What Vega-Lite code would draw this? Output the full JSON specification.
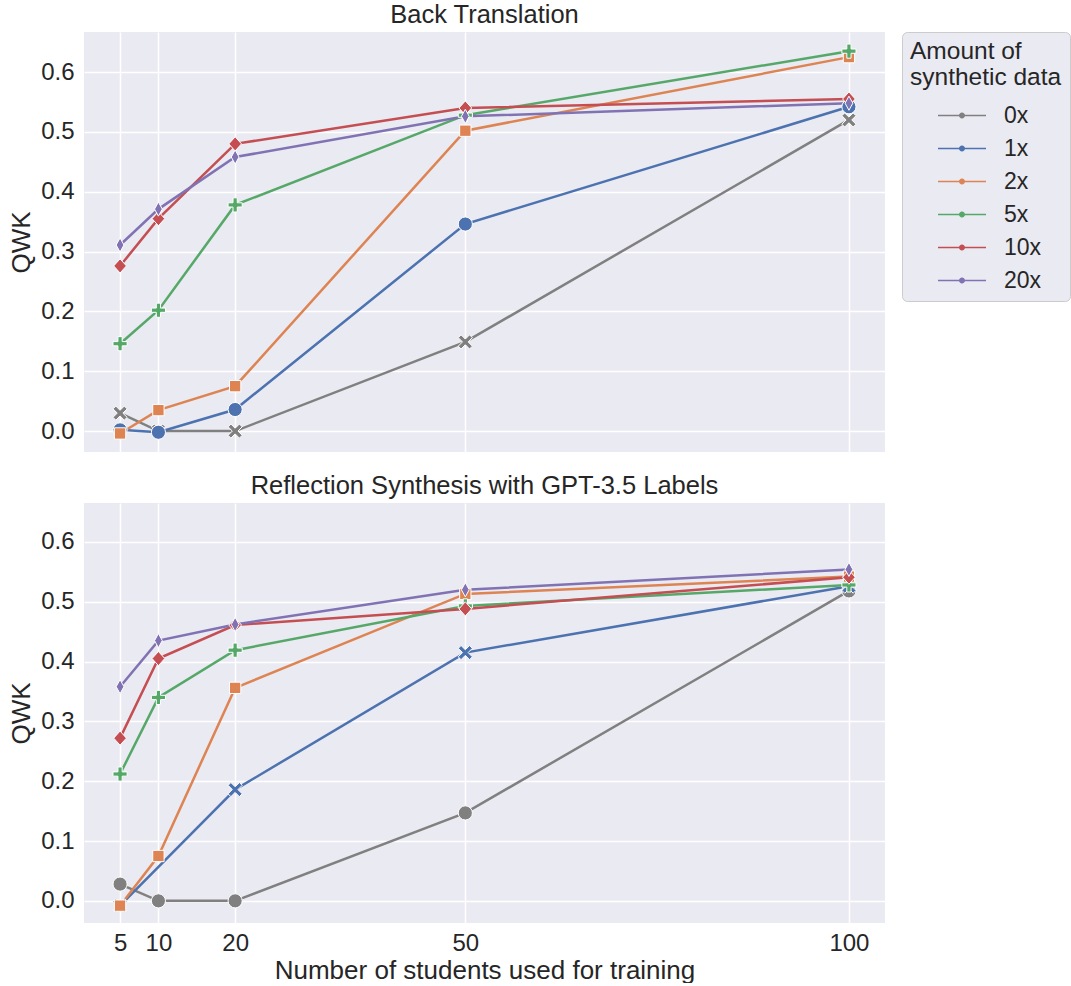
{
  "$schema": "https://vega.github.io/schema/vega-lite/v6.json",
  "background": "white",
  "padding": {"left": 8, "top": 2, "right": 0, "bottom": 0},
  "config": {
    "font": "Liberation Sans",
    "view": {"fill": "#eaeaf2", "stroke": null},
    "axis": {"domain": false, "ticks": false, "gridColor": "white", "gridWidth": 1.5, "labelFontSize": 24, "labelColor": "#262626", "titleFontSize": 26, "titleColor": "#262626", "titleFontWeight": "normal", "labelPadding": 10, "titlePadding": 6},
    "title": {"fontSize": 25.5, "fontWeight": "normal", "color": "#262626", "offset": 4},
    "legend": {"titleFontSize": 24.5, "titleFontWeight": "normal", "titleColor": "#262626", "titleLineHeight": 26, "labelFontSize": 23, "labelColor": "#262626", "fillColor": "#eaeaf2", "strokeColor": "#cccccc", "cornerRadius": 5, "padding": 8, "offset": 17, "rowPadding": 9, "labelOffset": 30, "symbolOffset": 40, "titlePadding": 13}
  },
  "datasets": {
    "d": [
      {"panel": "bt", "amount": "0x", "students": 5, "qwk": 0.03},
      {"panel": "bt", "amount": "0x", "students": 10, "qwk": 0.0},
      {"panel": "bt", "amount": "0x", "students": 20, "qwk": 0.0},
      {"panel": "bt", "amount": "0x", "students": 50, "qwk": 0.149},
      {"panel": "bt", "amount": "0x", "students": 100, "qwk": 0.52},
      {"panel": "bt", "amount": "1x", "students": 5, "qwk": 0.002},
      {"panel": "bt", "amount": "1x", "students": 10, "qwk": -0.002},
      {"panel": "bt", "amount": "1x", "students": 20, "qwk": 0.036},
      {"panel": "bt", "amount": "1x", "students": 50, "qwk": 0.346},
      {"panel": "bt", "amount": "1x", "students": 100, "qwk": 0.542},
      {"panel": "bt", "amount": "2x", "students": 5, "qwk": -0.004},
      {"panel": "bt", "amount": "2x", "students": 10, "qwk": 0.035},
      {"panel": "bt", "amount": "2x", "students": 20, "qwk": 0.075},
      {"panel": "bt", "amount": "2x", "students": 50, "qwk": 0.502},
      {"panel": "bt", "amount": "2x", "students": 100, "qwk": 0.625},
      {"panel": "bt", "amount": "5x", "students": 5, "qwk": 0.146},
      {"panel": "bt", "amount": "5x", "students": 10, "qwk": 0.202},
      {"panel": "bt", "amount": "5x", "students": 20, "qwk": 0.378},
      {"panel": "bt", "amount": "5x", "students": 50, "qwk": 0.528},
      {"panel": "bt", "amount": "5x", "students": 100, "qwk": 0.635},
      {"panel": "bt", "amount": "10x", "students": 5, "qwk": 0.276},
      {"panel": "bt", "amount": "10x", "students": 10, "qwk": 0.355},
      {"panel": "bt", "amount": "10x", "students": 20, "qwk": 0.48},
      {"panel": "bt", "amount": "10x", "students": 50, "qwk": 0.54},
      {"panel": "bt", "amount": "10x", "students": 100, "qwk": 0.555},
      {"panel": "bt", "amount": "20x", "students": 5, "qwk": 0.311},
      {"panel": "bt", "amount": "20x", "students": 10, "qwk": 0.371},
      {"panel": "bt", "amount": "20x", "students": 20, "qwk": 0.458},
      {"panel": "bt", "amount": "20x", "students": 50, "qwk": 0.526},
      {"panel": "bt", "amount": "20x", "students": 100, "qwk": 0.548},
      {"panel": "rs", "amount": "0x", "students": 5, "qwk": 0.028},
      {"panel": "rs", "amount": "0x", "students": 10, "qwk": 0.0},
      {"panel": "rs", "amount": "0x", "students": 20, "qwk": 0.0},
      {"panel": "rs", "amount": "0x", "students": 50, "qwk": 0.147},
      {"panel": "rs", "amount": "0x", "students": 100, "qwk": 0.518},
      {"panel": "rs", "amount": "1x", "students": 5, "qwk": -0.008},
      {"panel": "rs", "amount": "1x", "students": 20, "qwk": 0.186},
      {"panel": "rs", "amount": "1x", "students": 50, "qwk": 0.415},
      {"panel": "rs", "amount": "1x", "students": 100, "qwk": 0.526},
      {"panel": "rs", "amount": "2x", "students": 5, "qwk": -0.008},
      {"panel": "rs", "amount": "2x", "students": 10, "qwk": 0.075},
      {"panel": "rs", "amount": "2x", "students": 20, "qwk": 0.356},
      {"panel": "rs", "amount": "2x", "students": 50, "qwk": 0.513},
      {"panel": "rs", "amount": "2x", "students": 100, "qwk": 0.542},
      {"panel": "rs", "amount": "5x", "students": 5, "qwk": 0.212},
      {"panel": "rs", "amount": "5x", "students": 10, "qwk": 0.34},
      {"panel": "rs", "amount": "5x", "students": 20, "qwk": 0.419},
      {"panel": "rs", "amount": "5x", "students": 50, "qwk": 0.493},
      {"panel": "rs", "amount": "5x", "students": 100, "qwk": 0.528},
      {"panel": "rs", "amount": "10x", "students": 5, "qwk": 0.272},
      {"panel": "rs", "amount": "10x", "students": 10, "qwk": 0.405},
      {"panel": "rs", "amount": "10x", "students": 20, "qwk": 0.461},
      {"panel": "rs", "amount": "10x", "students": 50, "qwk": 0.488},
      {"panel": "rs", "amount": "10x", "students": 100, "qwk": 0.541},
      {"panel": "rs", "amount": "20x", "students": 5, "qwk": 0.358},
      {"panel": "rs", "amount": "20x", "students": 10, "qwk": 0.435},
      {"panel": "rs", "amount": "20x", "students": 20, "qwk": 0.462},
      {"panel": "rs", "amount": "20x", "students": 50, "qwk": 0.52},
      {"panel": "rs", "amount": "20x", "students": 100, "qwk": 0.554}
    ]
  },
  "spacing": 21,
  "vconcat": [
    {
      "title": "Back Translation",
      "width": 801,
      "height": 420,
      "data": {"name": "d"},
      "transform": [{"filter": "datum.panel === 'bt'"}],
      "encoding": {
        "x": {"field": "students", "type": "quantitative", "scale": {"domain": [0.3, 104.7], "nice": false, "zero": false}, "axis": {"values": [5, 10, 20, 50, 100], "labels": false, "title": null}},
        "y": {"field": "qwk", "type": "quantitative", "scale": {"domain": [-0.035, 0.667], "nice": false, "zero": false}, "axis": {"values": [0, 0.1, 0.2, 0.3, 0.4, 0.5, 0.6], "format": ".1f", "title": "QWK"}},
        "color": {"field": "amount", "type": "nominal", "scale": {"domain": ["0x", "1x", "2x", "5x", "10x", "20x"], "range": ["#808080", "#4C72B0", "#DD8452", "#55A868", "#C44E52", "#8172B3"]}, "legend": {"title": ["Amount of", "synthetic data"], "orient": "right", "symbolType": "M-2,-0.07H2V0.07H-2Z M-0.25,0A0.25,0.25 0 1 1 0.25,0A0.25,0.25 0 1 1 -0.25,0Z", "symbolSize": 576, "symbolStrokeWidth": 0}}
      },
      "layer": [
        {"mark": {"type": "line", "strokeWidth": 2.5}},
        {"mark": {"type": "point", "filled": true, "size": 200, "stroke": "white", "strokeWidth": 1, "opacity": 1},
         "encoding": {"shape": {"field": "amount", "type": "nominal", "scale": {"domain": ["0x", "1x", "2x", "5x", "10x", "20x"], "range": [
           "M-0.6,-1L0,-0.4L0.6,-1L1,-0.6L0.4,0L1,0.6L0.6,1L0,0.4L-0.6,1L-1,0.6L-0.4,0L-1,-0.6Z",
           "circle",
           "M-0.8,-0.8H0.8V0.8H-0.8Z",
           "M-0.3,-1H0.3V-0.3H1V0.3H0.3V1H-0.3V0.3H-1V-0.3H-0.3Z",
           "M0,-1L0.9,0L0,1L-0.9,0Z",
           "M0,-1L0.55,0L0,1L-0.55,0Z"]}, "legend": null}}}
      ]
    },
    {
      "title": "Reflection Synthesis with GPT-3.5 Labels",
      "width": 801,
      "height": 420,
      "data": {"name": "d"},
      "transform": [{"filter": "datum.panel === 'rs'"}],
      "encoding": {
        "x": {"field": "students", "type": "quantitative", "scale": {"domain": [0.3, 104.7], "nice": false, "zero": false}, "axis": {"values": [5, 10, 20, 50, 100], "title": "Number of students used for training", "labelPadding": 8, "titlePadding": 2}},
        "y": {"field": "qwk", "type": "quantitative", "scale": {"domain": [-0.037, 0.665], "nice": false, "zero": false}, "axis": {"values": [0, 0.1, 0.2, 0.3, 0.4, 0.5, 0.6], "format": ".1f", "title": "QWK"}},
        "color": {"field": "amount", "type": "nominal", "scale": {"domain": ["0x", "1x", "2x", "5x", "10x", "20x"], "range": ["#808080", "#4C72B0", "#DD8452", "#55A868", "#C44E52", "#8172B3"]}}
      },
      "layer": [
        {"mark": {"type": "line", "strokeWidth": 2.5}},
        {"mark": {"type": "point", "filled": true, "size": 200, "stroke": "white", "strokeWidth": 1, "opacity": 1},
         "encoding": {"shape": {"field": "amount", "type": "nominal", "scale": {"domain": ["0x", "1x", "2x", "5x", "10x", "20x"], "range": [
           "circle",
           "M-0.6,-1L0,-0.4L0.6,-1L1,-0.6L0.4,0L1,0.6L0.6,1L0,0.4L-0.6,1L-1,0.6L-0.4,0L-1,-0.6Z",
           "M-0.8,-0.8H0.8V0.8H-0.8Z",
           "M-0.3,-1H0.3V-0.3H1V0.3H0.3V1H-0.3V0.3H-1V-0.3H-0.3Z",
           "M0,-1L0.9,0L0,1L-0.9,0Z",
           "M0,-1L0.55,0L0,1L-0.55,0Z"]}, "legend": null}}}
      ]
    }
  ],
  "resolve": {"scale": {"shape": "independent", "y": "independent"}, "legend": {"shape": "independent"}}
}
